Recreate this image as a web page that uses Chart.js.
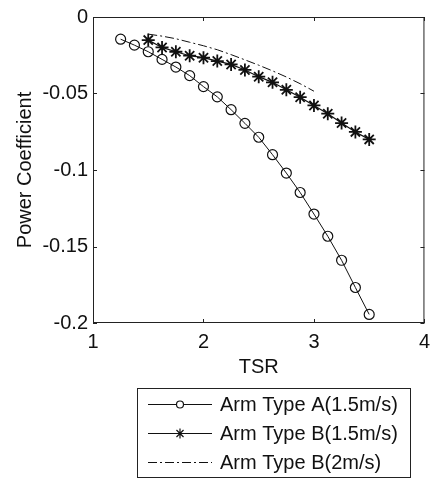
<!DOCTYPE html>
<html lang="en">
  <head>
    <meta charset="UTF-8" />
    <title>Power Coefficient vs TSR</title>
  </head>
  <style>
    * {
      margin: 0;
      padding: 0;
    }
    body {
      background: white;
    }
    .chartBox {
      width: 437px;
      height: 479px;
    }
  </style>
  <body>
    <div class="chartBox">
      <canvas id="myChart"></canvas>
    </div>

    <script src="https://cdn.jsdelivr.net/npm/chart.js"></script>

    <script>
      // data block
      const tsrA = [1.25, 1.375, 1.5, 1.625, 1.75, 1.875, 2.0, 2.125, 2.25, 2.375, 2.5, 2.625, 2.75, 2.875, 3.0, 3.125, 3.25, 3.375, 3.5];
      const cpA = [-0.0145, -0.0184, -0.0227, -0.0277, -0.0327, -0.0383, -0.0455, -0.0522, -0.0606, -0.0695, -0.0786, -0.090, -0.102, -0.1147, -0.1288, -0.1433, -0.159, -0.1768, -0.1944];

      const tsrB = [1.5, 1.625, 1.75, 1.875, 2.0, 2.125, 2.25, 2.375, 2.5, 2.625, 2.75, 2.875, 3.0, 3.125, 3.25, 3.375, 3.5];
      const cpB = [-0.0151, -0.0199, -0.0227, -0.0253, -0.0266, -0.0288, -0.031, -0.0346, -0.039, -0.0427, -0.0476, -0.0524, -0.0578, -0.0632, -0.0693, -0.0751, -0.080];

      const tsrB2 = [1.5, 1.625, 1.75, 1.875, 2.0, 2.125, 2.25, 2.375, 2.5, 2.625, 2.75, 2.875, 3.0];
      const cpB2 = [-0.0112, -0.0125, -0.0142, -0.0165, -0.0188, -0.0214, -0.0246, -0.028, -0.0315, -0.0352, -0.0392, -0.0436, -0.0485];

      const seriesNames = ["Arm Type A(1.5m/s)", "Arm Type B(1.5m/s)", "Arm Type B(2m/s)"];
      const xTicks = [1, 2, 3, 4];
      const yTicks = [-0.2, -0.15, -0.1, -0.05, 0];

      const toPoints = (xs, ys) => xs.map((x, i) => ({ x: x, y: ys[i] }));

      const ink = "#111";
      const fontFamily = "Arial, 'Liberation Sans', sans-serif";

      const data = {
        datasets: [
          {
            label: seriesNames[0],
            data: toPoints(tsrA, cpA),
            borderColor: ink,
            borderWidth: 1,
            pointStyle: "circle",
            pointRadius: 5,
            pointBorderColor: ink,
            pointBackgroundColor: "rgba(0,0,0,0)",
            pointBorderWidth: 1.2,
            showLine: true
          },
          {
            label: seriesNames[1],
            data: toPoints(tsrB, cpB),
            borderColor: ink,
            borderWidth: 1.2,
            pointStyle: "star",
            pointRadius: 6.5,
            pointBorderColor: ink,
            pointBorderWidth: 1.8,
            showLine: true
          },
          {
            label: seriesNames[2],
            data: toPoints(tsrB2, cpB2),
            borderColor: ink,
            borderWidth: 1,
            borderDash: [9, 3, 2, 3],
            pointRadius: 0,
            showLine: true
          }
        ]
      };

      // box frame with inward ticks (matlab style)
      const frameBox = {
        id: "frameBox",
        afterDatasetsDraw(chart) {
          const { ctx, chartArea: { top, bottom, left, right }, scales: { x, y } } = chart;
          ctx.save();
          ctx.strokeStyle = "#222";
          ctx.lineWidth = 1;
          ctx.strokeRect(left + 0.5, top + 0.5, right - left - 1, bottom - top - 1);
          ctx.beginPath();
          const len = 4;
          xTicks.forEach(v => {
            const px = Math.round(x.getPixelForValue(v)) + 0.5;
            ctx.moveTo(px, bottom); ctx.lineTo(px, bottom - len);
            ctx.moveTo(px, top); ctx.lineTo(px, top + len);
          });
          yTicks.forEach(v => {
            const py = Math.round(y.getPixelForValue(v)) + 0.5;
            ctx.moveTo(left, py); ctx.lineTo(left + len, py);
            ctx.moveTo(right, py); ctx.lineTo(right - len, py);
          });
          ctx.stroke();
          ctx.restore();
        }
      };

      // boxed legend under the axes
      const boxLegend = {
        id: "boxLegend",
        afterDraw(chart) {
          const { ctx } = chart;
          const bx = 137, by = 388, bw = 273, bh = 89;
          ctx.save();
          ctx.fillStyle = "white";
          ctx.fillRect(bx, by, bw, bh);
          ctx.strokeStyle = "#222";
          ctx.lineWidth = 1;
          ctx.strokeRect(bx + 0.5, by + 0.5, bw, bh);
          ctx.font = `20px ${fontFamily}`;
          ctx.textBaseline = "middle";
          ctx.textAlign = "left";
          chart.data.datasets.forEach((ds, i) => {
            const yy = by + 16 + i * 29 + 0.5;
            ctx.strokeStyle = ink;
            ctx.lineWidth = 1;
            ctx.setLineDash(ds.borderDash || []);
            ctx.beginPath();
            ctx.moveTo(148, yy);
            ctx.lineTo(212, yy);
            ctx.stroke();
            ctx.setLineDash([]);
            if (ds.pointRadius > 0) {
              ctx.lineWidth = 1.2;
              ctx.strokeStyle = ink;
              ctx.fillStyle = "white";
              if (ds.pointStyle === "circle") {
                ctx.beginPath();
                ctx.arc(180, yy, 3.5, 0, Math.PI * 2);
                ctx.fill();
                ctx.stroke();
              } else {
                Chart.helpers.drawPoint(ctx, {
                  pointStyle: ds.pointStyle,
                  radius: 5,
                  rotation: 0,
                  borderWidth: 1.2
                }, 180, yy);
              }
            }
            ctx.fillStyle = ink;
            ctx.fillText(ds.label, 220, yy + 1);
          });
          ctx.restore();
        }
      };

      // config block
      const config = {
        type: "scatter",
        data,
        options: {
          responsive: true,
          maintainAspectRatio: false,
          animation: false,
          layout: {
            padding: { top: 15, right: 5, bottom: 100, left: 0 }
          },
          plugins: {
            legend: { display: false },
            tooltip: { enabled: false }
          },
          scales: {
            x: {
              type: "linear",
              min: 1,
              max: 4,
              afterBuildTicks: s => { s.ticks = xTicks.map(v => ({ value: v })); },
              afterFit: s => { s.height = 56; },
              grid: { display: false, drawTicks: false },
              border: { display: false },
              ticks: {
                color: ink,
                padding: 7,
                maxRotation: 0,
                font: { size: 20, family: fontFamily }
              },
              title: {
                display: true,
                text: "TSR",
                color: ink,
                padding: { top: 0, bottom: 0 },
                font: { size: 20, family: fontFamily }
              }
            },
            y: {
              type: "linear",
              min: -0.2,
              max: 0,
              afterBuildTicks: s => { s.ticks = yTicks.map(v => ({ value: v })); },
              afterFit: s => { s.width = 93; },
              grid: { display: false, drawTicks: false },
              border: { display: false },
              ticks: {
                color: ink,
                padding: 5,
                font: { size: 20, family: fontFamily },
                callback: v => String(Number(v.toFixed(2)))
              },
              title: {
                display: true,
                text: "Power Coefficient",
                color: ink,
                padding: { top: 13, bottom: 0 },
                font: { size: 20, family: fontFamily }
              }
            }
          }
        },
        plugins: [frameBox, boxLegend]
      };

      // init render block
      const myChart = new Chart(document.getElementById("myChart"), config);
    </script>
  </body>
</html>
